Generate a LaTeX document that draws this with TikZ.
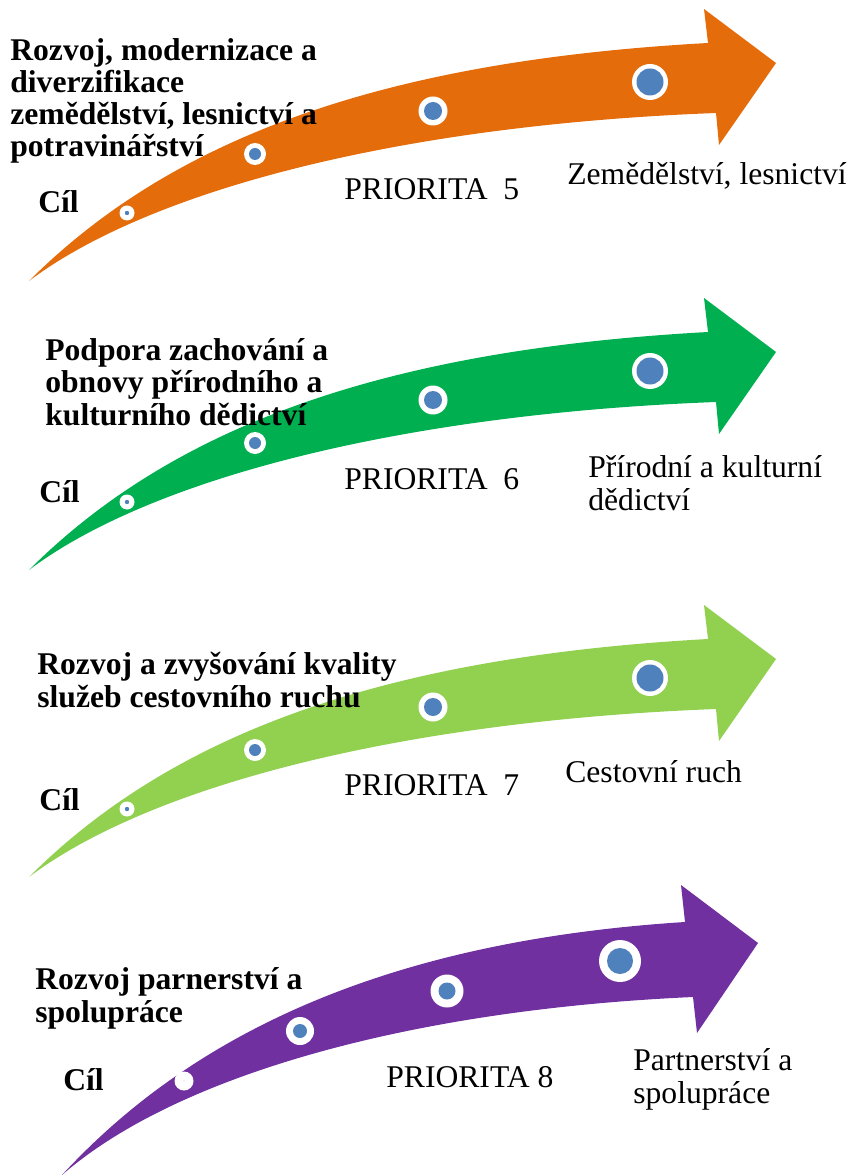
\documentclass[tikz,border=0pt]{standalone}
\usepackage{fontspec}
\setmainfont{Liberation Serif}
\definecolor{oranzova}{RGB}{228,108,10}
\definecolor{zelena}{RGB}{0,176,80}
\definecolor{svetlezelena}{RGB}{146,208,80}
\definecolor{fialova}{RGB}{112,48,160}
\definecolor{modra}{RGB}{79,129,189}

\begin{document}
\begin{tikzpicture}[x=0.02cm, y=-0.02cm, line cap=round,
  popis/.style={inner sep=0pt, anchor=base west, align=left, font=\fontsize{18}{18.4}\selectfont},
  nadpis/.style={popis, font=\fontsize{18}{18.4}\selectfont\bfseries}]
\useasboundingbox (0,0) rectangle (851,1175);
% ---------- šipky: priorita 5, 6, 7 ----------
\foreach \dy/\barva in {0/oranzova, 289/zelena, 596/svetlezelena} {
  \begin{scope}[shift={(0,\dy)}]
    \fill[\barva] (29,281) .. controls (180,130) and (400,60) .. (708,43)
      -- (704,9) -- (776,63) -- (719,145) -- (716,113)
      .. controls (400,125) and (150,190) .. (29,281) -- cycle;
    \foreach \cx/\cy/\ro/\ri in {127/213/7.5/2.2, 255/154/11/6, 433/111/14.5/9, 650/82/18/13.5} {
      \fill[white] (\cx,\cy) circle (\ro);
      \fill[modra] (\cx,\cy) circle (\ri);
    }
  \end{scope}
}
% ---------- šipka: priorita 8 ----------
\fill[fialova] (62,1175) .. controls (200,1025) and (402,940) .. (685,922)
  -- (681,885) -- (758,943) -- (697,1033) -- (693,997)
  .. controls (403,1010) and (173,1078) .. (62,1175) -- cycle;
\foreach \cx/\cy/\ro/\ri in {184/1081/9.5/0.4, 300/1031/14/7, 447/991/16.5/8.5, 620/961/21/13} {
  \fill[white] (\cx,\cy) circle (\ro);
  \fill[modra] (\cx,\cy) circle (\ri);
}
% ---------- texty (víceřádkové: účaří posledního řádku) ----------
\node[nadpis] (nadpis5) at (10,157) {Rozvoj, modernizace a\\diverzifikace\\zemědělství, lesnictví a\\potravinářství};
\node[nadpis] (cil5) at (38,213) {Cíl};
\node[popis] (prio5) at (344,200) {PRIORITA\ \ 5};
\node[popis] (obl5) at (567,185) {Zemědělství, lesnictví};

\node[nadpis] (nadpis6) at (45,425) {Podpora zachování a\\obnovy přírodního a\\kulturního dědictví};
\node[nadpis] (cil6) at (39,502) {Cíl};
\node[popis] (prio6) at (344,489) {PRIORITA\ \ 6};
\node[popis] (obl6) at (588,510) {Přírodní a kulturní\\dědictví};

\node[nadpis] (nadpis7) at (37,707) {Rozvoj a zvyšování kvality\\služeb cestovního ruchu};
\node[nadpis] (cil7) at (39,810) {Cíl};
\node[popis] (prio7) at (344,795) {PRIORITA\ \ 7};
\node[popis] (obl7) at (565,782) {Cestovní ruch};

\node[nadpis] (nadpis8) at (35,1022) {Rozvoj parnerství a\\spolupráce};
\node[nadpis] (cil8) at (63,1090) {Cíl};
\node[popis] (prio8) at (386,1087) {PRIORITA 8};
\node[popis] (obl8) at (633,1103) {Partnerství a\\spolupráce};
\end{tikzpicture}
\end{document}
